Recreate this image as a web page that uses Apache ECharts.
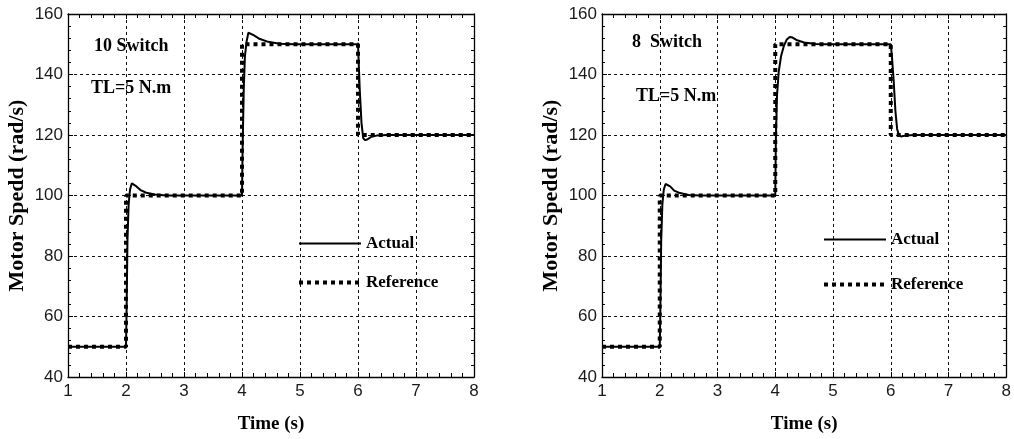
<!DOCTYPE html>
<html>
<head>
<meta charset="utf-8">
<script src="https://cdn.jsdelivr.net/npm/echarts@6/dist/echarts.min.js"></script>
<style>
  html, body { margin: 0; padding: 0; background: #fff; }
  #chart { width: 1014px; height: 439px; }
</style>
</head>
<body>
<div id="chart"></div>
<script>
// Time axis ticks (s) and speed axis ticks (rad/s)
const timeTicks = [1, 2, 3, 4, 5, 6, 7, 8];
const speedTicks = [40, 60, 80, 100, 120, 140, 160];

// Reference speed command (step profile)
const referenceSpeed = [
  [1, 50], [2, 50], [2, 100], [4, 100], [4, 150], [6, 150], [6, 120], [8, 120]
];

// Measured motor speed, 10-switch inverter
const actual10Switch = [
  [1, 50], [2, 50], [2.01, 62], [2.025, 85], [2.045, 97], [2.07, 102], [2.1, 104],
  [2.13, 104.2], [2.18, 103], [2.25, 101.8], [2.35, 100.9], [2.5, 100.3], [2.7, 100],
  [4, 100], [4.01, 115], [4.03, 135], [4.05, 146], [4.08, 151], [4.11, 153.8],
  [4.14, 154.2], [4.2, 153], [4.3, 151.8], [4.45, 150.8], [4.65, 150.2], [4.9, 150],
  [6, 150], [6.01, 145], [6.03, 135], [6.06, 124], [6.09, 119], [6.12, 118.3],
  [6.16, 118.5], [6.22, 119.3], [6.32, 119.8], [6.5, 120], [8, 120]
];

// Measured motor speed, 8-switch inverter
const actual8Switch = [
  [1, 50], [2, 50], [2.01, 62], [2.025, 85], [2.045, 97], [2.07, 102], [2.1, 103.8],
  [2.13, 104], [2.18, 103], [2.25, 101.6], [2.35, 100.8], [2.5, 100.2], [2.7, 100],
  [4, 100], [4.01, 118], [4.03, 133], [4.06, 141], [4.1, 146], [4.15, 149.5],
  [4.2, 151.6], [4.25, 152.4], [4.3, 152.2], [4.38, 151.3], [4.5, 150.6], [4.7, 150.1],
  [4.9, 150], [6, 150], [6.02, 146], [6.05, 138], [6.08, 128], [6.11, 122],
  [6.14, 120], [6.18, 119.5], [6.25, 119.8], [6.4, 120], [8, 120]
];

const panelTitles = ['10 Switch', '8  Switch'];
const loadLabel = 'TL=5 N.m';

const SANS = 'Liberation Sans, Arial, sans-serif';
const SERIF = 'Liberation Serif, Times New Roman, serif';

const tMin = timeTicks[0], tMax = timeTicks[timeTicks.length - 1];
const tStep = timeTicks[1] - timeTicks[0];
const vMin = speedTicks[0], vMax = speedTicks[speedTicks.length - 1];
const vStep = speedTicks[1] - speedTicks[0];

const grids = [
  { left: 68, top: 14, width: 406, height: 372 },
  { left: 602, top: 14, width: 405, height: 372 }
];

const frameLine = { show: true, onZero: false, lineStyle: { color: '#000', width: 1.3 } };
const gridDash = { show: true, lineStyle: { color: '#111', width: 1, type: [3, 3] } };

function xAxisFor(gridIndex, bottom) {
  return {
    type: 'value', gridIndex, min: tMin, max: tMax, interval: tStep,
    position: bottom ? 'bottom' : 'top',
    axisLine: frameLine,
    axisTick: { show: true, inside: true, length: 5, lineStyle: { color: '#000' } },
    minorTick: { show: true, splitNumber: 5, length: 4, lineStyle: { color: '#000' } },
    splitLine: bottom ? gridDash : { show: false },
    axisLabel: bottom
      ? { show: true, color: '#1a1a1a', fontFamily: SANS, fontSize: 17, margin: 6 }
      : { show: false },
    name: bottom ? 'Time (s)' : '',
    nameLocation: 'middle', nameGap: 38,
    nameTextStyle: { fontFamily: SERIF, fontWeight: 'bold', fontSize: 19, color: '#000' }
  };
}

function yAxisFor(gridIndex, left) {
  return {
    type: 'value', gridIndex, min: vMin, max: vMax, interval: vStep,
    position: left ? 'left' : 'right',
    axisLine: frameLine,
    axisTick: { show: true, inside: true, length: 5, lineStyle: { color: '#000' } },
    minorTick: { show: true, splitNumber: 5, length: 3, lineStyle: { color: '#000' } },
    splitLine: left ? gridDash : { show: false },
    axisLabel: left
      ? { show: true, color: '#1a1a1a', fontFamily: SANS, fontSize: 17, margin: 5 }
      : { show: false },
    name: left ? 'Motor Spedd (rad/s)' : '',
    nameLocation: 'middle', nameGap: 40, nameRotate: 90,
    nameTextStyle: { fontFamily: SERIF, fontWeight: 'bold', fontSize: 22, color: '#000' }
  };
}

const actualStyle = { color: '#000', width: 2, type: 'solid' };
const referenceStyle = { color: '#000', width: 4, type: [4, 4], cap: 'butt' };

function seriesFor(idx, actual) {
  return [
    {
      name: 'Actual', type: 'line', xAxisIndex: idx * 2, yAxisIndex: idx * 2,
      data: actual, symbol: 'none', lineStyle: actualStyle, itemStyle: { color: '#000' },
      animation: false, z: 3
    },
    {
      name: 'Reference', type: 'line', xAxisIndex: idx * 2, yAxisIndex: idx * 2,
      data: referenceSpeed, symbol: 'none', lineStyle: referenceStyle, itemStyle: { color: '#000' },
      animation: false, z: 4
    }
  ];
}

const legendText = { fontFamily: SERIF, fontWeight: 'bold', fontSize: 17, color: '#000' };
const legendCommon = {
  orient: 'vertical', itemWidth: 62, itemHeight: 14, padding: 0,
  data: [
    { name: 'Actual', lineStyle: { color: '#000', width: 2, type: 'solid' } },
    { name: 'Reference', lineStyle: { color: '#000', width: 4, type: [4, 4], cap: 'butt' } }
  ],
  textStyle: legendText, selectedMode: false,
  itemStyle: { opacity: 0 }
};

function annotation(text, x, y) {
  return {
    type: 'text', left: x, top: y, z: 10,
    style: { text, font: 'bold 18px ' + SERIF, fill: '#000' }
  };
}

const chart = echarts.init(document.getElementById('chart'), null, { renderer: 'canvas' });
chart.setOption({
  backgroundColor: '#fff',
  animation: false,
  grid: grids,
  xAxis: [xAxisFor(0, true), xAxisFor(0, false), xAxisFor(1, true), xAxisFor(1, false)],
  yAxis: [yAxisFor(0, true), yAxisFor(0, false), yAxisFor(1, true), yAxisFor(1, false)],
  legend: [
    Object.assign({ left: 297, top: 235, itemGap: 22 }, legendCommon),
    Object.assign({ left: 822, top: 231, itemGap: 28 }, legendCommon)
  ],
  graphic: [
    annotation(panelTitles[0], 94, 37),
    annotation(loadLabel, 91, 79),
    annotation(panelTitles[1], 632, 33),
    annotation(loadLabel, 636, 87)
  ],
  series: [...seriesFor(0, actual10Switch), ...seriesFor(1, actual8Switch)]
});
</script>
</body>
</html>
